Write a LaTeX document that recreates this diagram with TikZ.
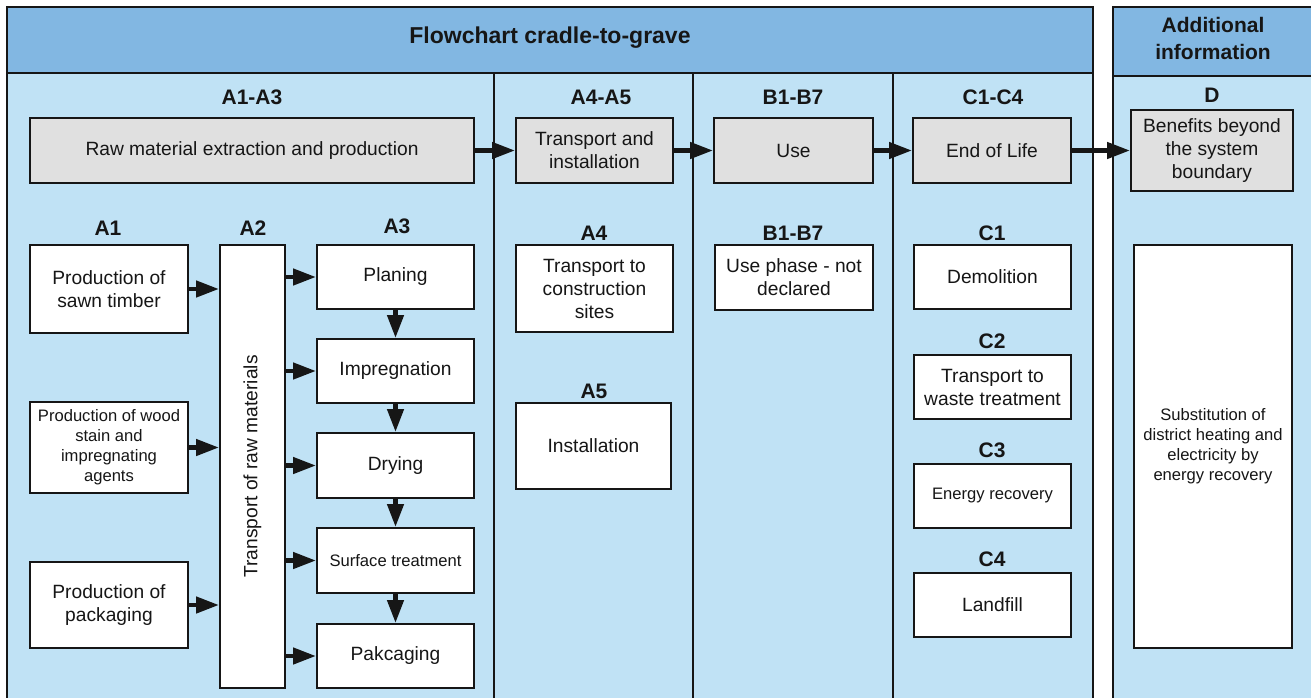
\documentclass[tikz,border=0pt]{standalone}
\usepackage{fontspec}
\setmainfont{Liberation Sans}
\usetikzlibrary{arrows.meta}
\definecolor{hdr}{RGB}{130,183,226}
\definecolor{lane}{RGB}{192,226,245}
\definecolor{gry}{RGB}{224,224,224}
\definecolor{ink}{RGB}{22,22,22}
\begin{document}
\begin{tikzpicture}[x=1pt,y=-1pt,
  lbl/.style={font=\bfseries\fontsize{21}{25}\selectfont, text=ink, inner sep=0pt},
  ttl/.style={font=\bfseries\fontsize{23}{27}\selectfont, text=ink, inner sep=0pt, align=center},
  box/.style={draw=ink, line width=2pt, align=center, text=ink, inner sep=2pt, font=\fontsize{19.2}{23}\selectfont},
  gbox/.style={box, fill=gry},
  wbox/.style={box, fill=white},
  small/.style={font=\fontsize{16.6}{20}\selectfont},
  arr/.style={-{Triangle[length=23pt,width=16pt]}, line width=4.5pt, draw=ink},
  frame/.style={draw=ink, line width=2pt}]
\useasboundingbox (0,0) rectangle (1311,697);
\clip (0,0) rectangle (1311,697);
\fill[white] (0,0) rectangle (1311,697);
% main frame
\fill[lane] (7,73) rectangle (1093,720);
\fill[hdr] (7,7) rectangle (1093,73);
\draw[frame] (7,720) -- (7,7) -- (1093,7) -- (1093,720);
\draw[frame] (7,73) -- (1093,73);
\draw[frame] (494,73) -- (494,720);
\draw[frame] (693,73) -- (693,720);
\draw[frame] (893,73) -- (893,720);
% D frame
\fill[lane] (1113,76) rectangle (1330,720);
\fill[hdr] (1113,7) rectangle (1330,76);
\draw[frame] (1113,720) -- (1113,7) -- (1330,7);
\draw[frame] (1113,76) -- (1330,76);
% titles
\node[ttl] (title) at (550,38) {Flowchart cradle-to-grave};
\node[ttl, font=\bfseries\fontsize{21}{27}\selectfont] (addinfo) at (1213,38) {Additional\\information};
\node[lbl] (lA13) at (252,97) {A1-A3};
\node[lbl] (lA45) at (601,97) {A4-A5};
\node[lbl] (lB) at (793,97) {B1-B7};
\node[lbl] (lC) at (993,97) {C1-C4};
\node[lbl] (lD) at (1212,95) {D};
% top grey boxes
\node[gbox, minimum width=444pt, minimum height=65pt] (raw) at (252,150.5) {Raw material extraction and production};
\node[gbox, minimum width=157pt, minimum height=65pt] (tai) at (594.5,150.5) {Transport and\\installation};
\node[gbox, minimum width=159pt, minimum height=65pt] (use) at (793.5,150.5) {Use};
\node[gbox, minimum width=158pt, minimum height=65pt] (eol) at (992,150.5) {End of Life};
\node[gbox, minimum width=162pt, minimum height=81pt] (ben) at (1212,150.5) {Benefits beyond\\the system\\boundary};
\draw[arr] (raw) -- (tai);
\draw[arr] (tai) -- (use);
\draw[arr] (use) -- (eol);
\draw[arr] (eol) -- (ben);
% A1-A3 sub labels
\node[lbl] (lA1) at (108,228) {A1};
\node[lbl] (lA2) at (253,228) {A2};
\node[lbl] (lA3) at (397,226) {A3};
% A1 boxes
\node[wbox, minimum width=158pt, minimum height=88pt] (p1) at (109,289) {Production of\\sawn timber};
\node[wbox, small, minimum width=158pt, minimum height=91pt] (p2) at (109,447.5) {Production of wood\\stain and\\impregnating\\agents};
\node[wbox, minimum width=158pt, minimum height=86pt] (p3) at (109,605) {Production of\\packaging};
% A2
\node[wbox, minimum width=65pt, minimum height=443pt] (a2) at (252.5,466.5) {};
\node[rotate=90, text=ink, font=\fontsize{19.2}{23}\selectfont, inner sep=0pt] (a2t) at (a2.center) {Transport of raw materials};
% A3 boxes
\node[wbox, minimum width=157pt, minimum height=64pt] (pl) at (395.5,277) {Planing};
\node[wbox, minimum width=157pt, minimum height=64pt] (im) at (395.5,371) {Impregnation};
\node[wbox, minimum width=157pt, minimum height=65pt] (dr) at (395.5,465.5) {Drying};
\node[wbox, small, minimum width=157pt, minimum height=65pt] (su) at (395.5,560.5) {Surface treatment};
\node[wbox, minimum width=157pt, minimum height=64pt] (pk) at (395.5,656) {Pakcaging};
% A1 -> A2
\draw[arr] (p1.east) -- (p1.east -| a2.west);
\draw[arr] (p2.east) -- (p2.east -| a2.west);
\draw[arr] (p3.east) -- (p3.east -| a2.west);
% A2 -> A3
\draw[arr] (pl.west -| a2.east) -- (pl.west);
\draw[arr] (im.west -| a2.east) -- (im.west);
\draw[arr] (dr.west -| a2.east) -- (dr.west);
\draw[arr] (su.west -| a2.east) -- (su.west);
\draw[arr] (pk.west -| a2.east) -- (pk.west);
% A3 chain
\draw[arr] (pl) -- (im);
\draw[arr] (im) -- (dr);
\draw[arr] (dr) -- (su);
\draw[arr] (su) -- (pk);
% A4-A5
\node[lbl] (lA4) at (594,233) {A4};
\node[wbox, minimum width=157pt, minimum height=87pt] (a4) at (594.5,288.5) {Transport to\\construction\\sites};
\node[lbl] (lA5) at (594,391) {A5};
\node[wbox, minimum width=155pt, minimum height=86pt] (a5) at (593.5,446) {Installation};
% B
\node[lbl] (lB17) at (793,233) {B1-B7};
\node[wbox, minimum width=158pt, minimum height=65pt] (b) at (794,277.5) {Use phase - not\\declared};
% C
\node[lbl] (lC1) at (992,233) {C1};
\node[wbox, minimum width=157pt, minimum height=64pt] (c1) at (992.5,277) {Demolition};
\node[lbl] (lC2) at (992,341) {C2};
\node[wbox, minimum width=157pt, minimum height=64pt] (c2) at (992.5,387) {Transport to\\waste treatment};
\node[lbl] (lC3) at (992,450) {C3};
\node[wbox, small, minimum width=157pt, minimum height=64pt] (c3) at (992.5,496) {Energy recovery};
\node[lbl] (lC4) at (992,559) {C4};
\node[wbox, minimum width=157pt, minimum height=64pt] (c4) at (992.5,605) {Landfill};
% D
\node[wbox, small, minimum width=158pt, minimum height=403pt] (sub) at (1213,446.5) {Substitution of\\district heating and\\electricity by\\energy recovery};
\end{tikzpicture}
\end{document}
